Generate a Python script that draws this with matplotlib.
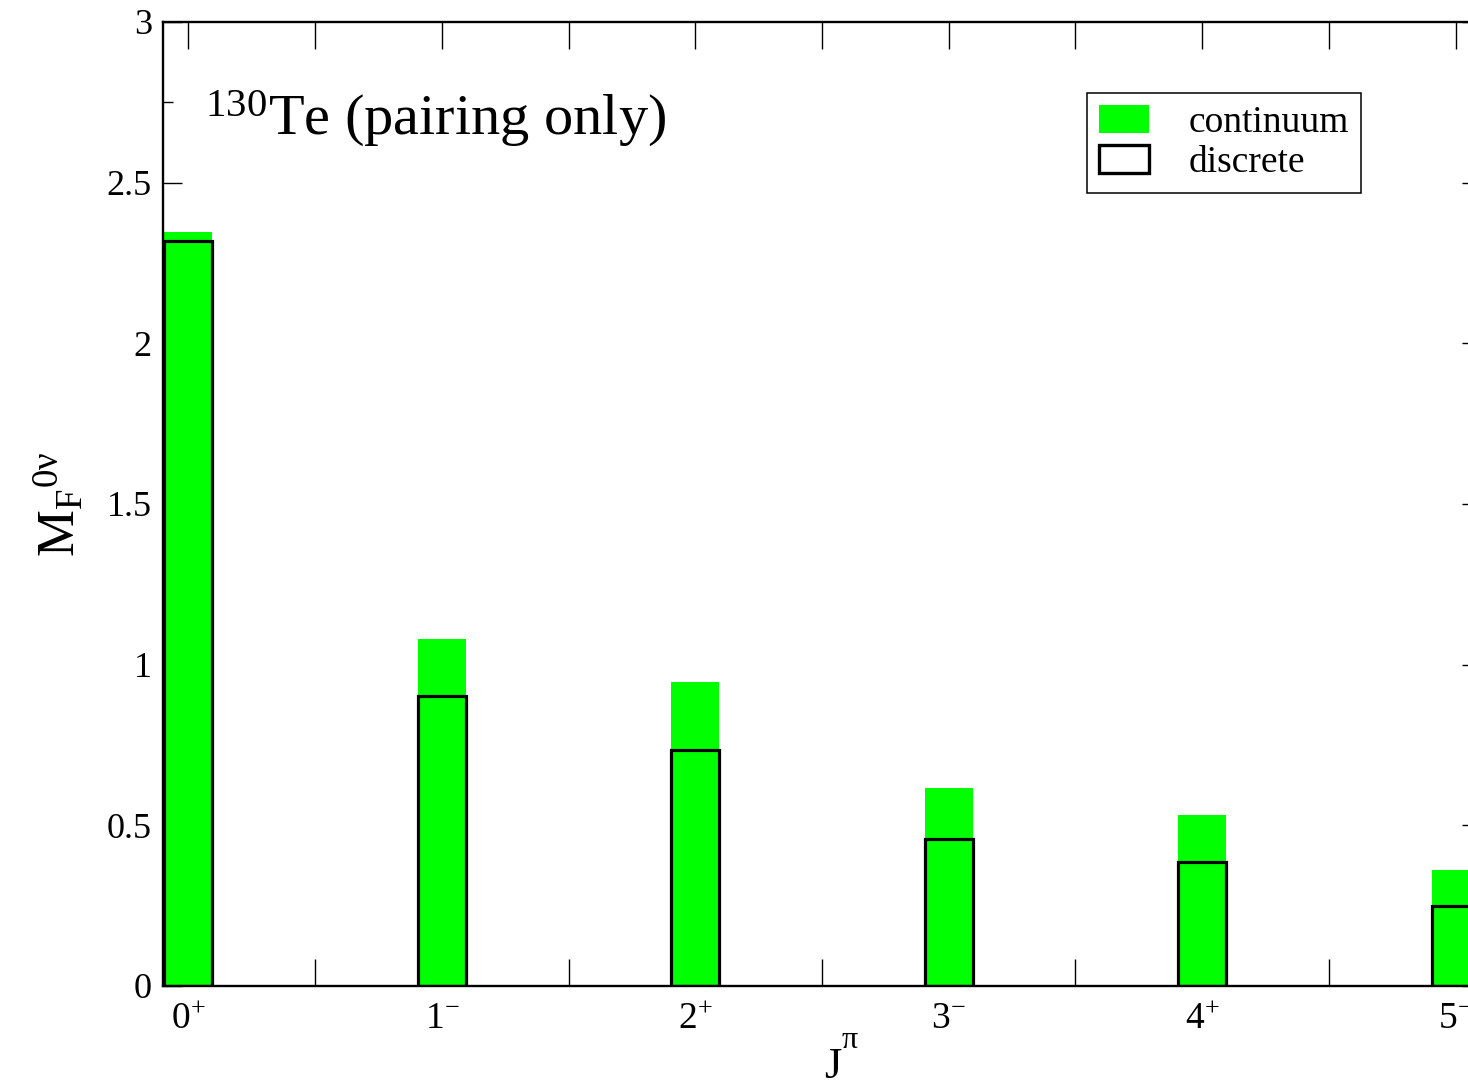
import matplotlib
matplotlib.use('Agg')
import matplotlib.pyplot as plt
from matplotlib.patches import Patch
from matplotlib.ticker import MultipleLocator

plt.rcParams['font.family'] = ['Liberation Serif', 'DejaVu Serif']
plt.rcParams['mathtext.fontset'] = 'custom'
plt.rcParams['mathtext.rm'] = 'Liberation Serif'
plt.rcParams['mathtext.it'] = 'Liberation Serif:italic'
plt.rcParams['mathtext.bf'] = 'Liberation Serif:bold'

# ---- data ----
j_values = [0, 1, 2, 3, 4, 5]
parities = ['+', '-', '+', '-', '+', '-']
continuum = [2.345, 1.080, 0.947, 0.616, 0.532, 0.361]
discrete = [2.320, 0.903, 0.733, 0.457, 0.386, 0.249]
y_tick_values = [0, 0.5, 1, 1.5, 2, 2.5, 3]
y_tick_labels = ['0', '0.5', '1', '1.5', '2', '2.5', '3']
x_tick_labels = [r'$\mathregular{%d^{%s}}$' % (j, p) for j, p in zip(j_values, parities)]

W, H = 1468, 1085
fig = plt.figure(figsize=(W / 100, H / 100), dpi=100)
left_px, right_px, top_px, bottom_px = 163, 1481, 22, 986
ax = fig.add_axes([left_px / W, (H - bottom_px) / H,
                   (right_px - left_px) / W, (bottom_px - top_px) / H])

green = '#00ff00'
bw = 0.19
ax.bar(j_values, continuum, width=bw, color=green, edgecolor='none', zorder=2)
ax.bar(j_values, discrete, width=bw, facecolor='none', edgecolor='black',
       linewidth=2.3, zorder=3)

ax.set_xlim(-0.1, 5.1)
ax.set_ylim(0, 3)

# ticks
ax.set_xticks(j_values)
ax.set_xticklabels(x_tick_labels)
ax.xaxis.set_minor_locator(MultipleLocator(0.5))
ax.set_yticks(y_tick_values)
ax.set_yticklabels(y_tick_labels)
ax.yaxis.set_minor_locator(MultipleLocator(0.25))

ax.tick_params(axis='x', which='both', direction='in', top=True, bottom=True,
               length=19.5, width=1.0, labelsize=27, pad=11)
ax.tick_params(axis='y', which='major', direction='in', left=True, right=True,
               length=14, width=1.0, labelsize=26, pad=8)
ax.tick_params(axis='y', which='minor', direction='in', left=True, right=True,
               length=7, width=1.0)

for s in ax.spines.values():
    s.set_linewidth(1.7)

# labels
ax.set_ylabel(r'M$_\mathregular{F}$$^\mathregular{0ν}$', fontsize=38)
ax.yaxis.set_label_coords(-0.058, 0.5)
ax.set_xlabel('J', fontsize=32)
ax.xaxis.set_label_coords(0.508, -0.063)
ax.text(0.5152, -0.0643, 'π', transform=ax.transAxes, fontsize=23,
        ha='left', va='baseline')

ax.text(0.032, 0.883, r'$^\mathregular{130}$Te (pairing only)', transform=ax.transAxes,
        fontsize=42, ha='left', va='baseline')

handles = [Patch(facecolor=green, edgecolor='none'),
           Patch(facecolor='white', edgecolor='black', linewidth=2.4)]
leg = ax.legend(handles, ['continuum', 'discrete'], loc='upper left',
                bbox_to_anchor=(0.701, 0.9263), borderaxespad=0, fontsize=27,
                handlelength=1.33, handleheight=0.77, handletextpad=1.04,
                labelspacing=0.13, borderpad=0.33, fancybox=False,
                framealpha=1, edgecolor='black')
leg.get_frame().set_linewidth(1.1)

fig.savefig('out.png', dpi=100)
